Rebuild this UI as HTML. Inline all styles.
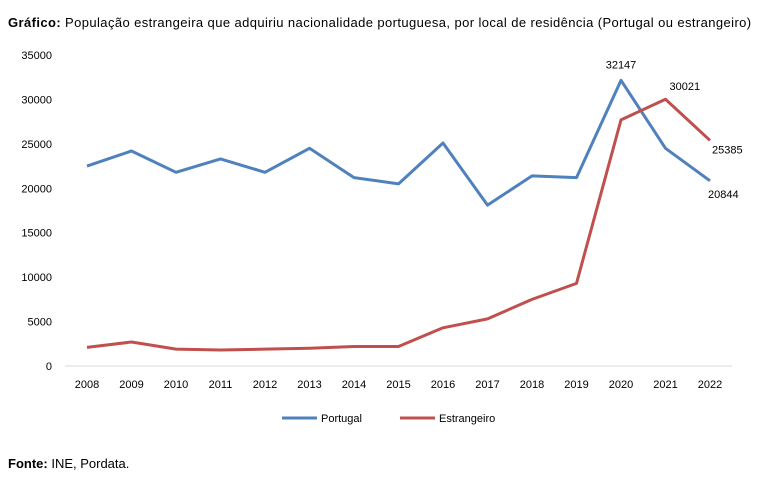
<!DOCTYPE html>
<html><head><meta charset="utf-8"><style>
body{margin:0;background:#fff;font-family:"Liberation Sans",sans-serif;}
#wrap{position:relative;width:768px;height:503px;overflow:hidden;}
.t{position:absolute;font-size:13px;color:#000;white-space:nowrap;}
</style></head><body>
<div id="wrap">
<div class="t" style="left:8px;top:15px;letter-spacing:0.4px"><b>Gráfico:</b> População estrangeira que adquiriu nacionalidade portuguesa, por local de residência (Portugal ou estrangeiro)</div>
<svg id="c" width="768" height="503" style="position:absolute;left:0;top:0"></svg>
<div class="t" style="left:8px;top:456px"><b>Fonte:</b> INE, Pordata.</div>
</div>
<script>
const years=[2008,2009,2010,2011,2012,2013,2014,2015,2016,2017,2018,2019,2020,2021,2022];
const portugal=[22500,24200,21800,23300,21800,24500,21200,20500,25100,18100,21400,21200,32147,24500,20844];
const estrangeiro=[2100,2700,1900,1800,1900,2000,2200,2200,4300,5300,7500,9300,27700,30021,25385];
const yTicks=[0,5000,10000,15000,20000,25000,30000,35000];
const NS="http://www.w3.org/2000/svg";
const svg=document.getElementById('c');
const x=i=>87+i*44.5;
const y=v=>366-v*(311/35000);
function mk(t,a){const e=document.createElementNS(NS,t);for(const k in a)e.setAttribute(k,a[k]);svg.appendChild(e);return e;}
const base=mk('line',{x1:65,x2:732,y1:366,y2:366,stroke:'#d9d9d9','stroke-width':1});


yTicks.forEach(v=>{const t=mk('text',{x:52,y:y(v)+4,'text-anchor':'end','font-size':11,'font-family':'Liberation Sans, sans-serif'});t.textContent=v;

});
years.forEach((yr,i)=>{const t=mk('text',{x:x(i),y:388,'text-anchor':'middle','font-size':11,'font-family':'Liberation Sans, sans-serif'});t.textContent=yr;

});
function line(d,col,name){const p=mk('polyline',{points:d.map((v,i)=>x(i)+','+y(v)).join(' '),fill:'none',stroke:col,'stroke-width':3,'stroke-linejoin':'round'});

}
line(portugal,'#4f81bd','portugal-line');
line(estrangeiro,'#c0504d','estrangeiro-line');
function lab(txt,xx,yy,anc){const t=mk('text',{x:xx,y:yy,'text-anchor':anc,'font-size':11,'font-family':'Liberation Sans, sans-serif'});t.textContent=txt;

}
lab(portugal[12],x(12),y(portugal[12])-12,'middle');
lab(estrangeiro[13],x(13)+4,y(estrangeiro[13])-9,'start');
lab(estrangeiro[14],x(14)+2,y(estrangeiro[14])+13,'start');
lab(portugal[14],x(14)-2,y(portugal[14])+17,'start');
const l1=mk('line',{x1:282,x2:317,y1:418,y2:418,stroke:'#4f81bd','stroke-width':3});


const t1=mk('text',{x:321,y:422,'font-size':11,'font-family':'Liberation Sans, sans-serif'});t1.textContent='Portugal';


const l2=mk('line',{x1:400,x2:435,y1:418,y2:418,stroke:'#c0504d','stroke-width':3});


const t2=mk('text',{x:439,y:422,'font-size':11,'font-family':'Liberation Sans, sans-serif'});t2.textContent='Estrangeiro';


</script>
</body></html>
